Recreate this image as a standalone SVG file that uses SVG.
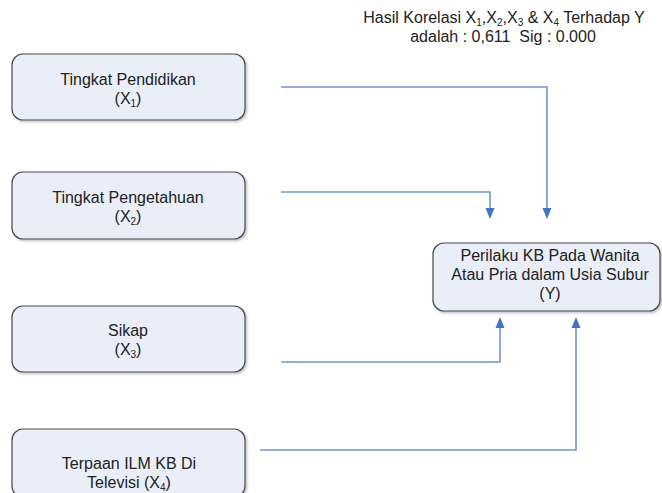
<svg xmlns="http://www.w3.org/2000/svg" width="662" height="493" viewBox="0 0 662 493">
<defs>
<filter id="sh" x="-5%" y="-5%" width="115%" height="120%">
<feDropShadow dx="1.5" dy="1.5" stdDeviation="1" flood-color="#000" flood-opacity="0.25"/>
</filter>
</defs>
<style>
.box{fill:#e9eef8;stroke:#4a4a4a;stroke-width:1.2;filter:url(#sh)}
.t{font-family:"Liberation Sans",Arial,sans-serif;font-size:16px;fill:#222;text-anchor:middle}
.s{font-size:10px}
.c{fill:none;stroke:#7096cc;stroke-width:1.6}
.ah{fill:#4472c4}
</style>
<rect width="662" height="493" fill="#fff"/>
<g id="title">
<text class="t" x="504" y="23">Hasil Korelasi X<tspan class="s" dy="3">1</tspan><tspan dy="-3">,X</tspan><tspan class="s" dy="3">2</tspan><tspan dy="-3">,X</tspan><tspan class="s" dy="3">3</tspan><tspan dy="-3"> &amp; X</tspan><tspan class="s" dy="3">4</tspan><tspan dy="-3"> Terhadap Y</tspan></text>
<text class="t" x="503" y="42" xml:space="preserve">adalah : 0,611  Sig : 0.000</text>
</g>
<g id="connectors">
<polyline class="c" points="281,87 547,87 547,210"/>
<path class="ah" d="M542.5,208 L551.5,208 L547,219 Z"/>
<polyline class="c" points="281,192 490,192 490,210"/>
<path class="ah" d="M485.5,208 L494.5,208 L490,219 Z"/>
<polyline class="c" points="281,362 500,362 500,326"/>
<path class="ah" d="M495.5,328 L504.5,328 L500,317 Z"/>
<polyline class="c" points="260,450 576,450 576,326"/>
<path class="ah" d="M571.5,328 L580.5,328 L576,317 Z"/>
</g>
<g id="x1">
<rect class="box" x="12" y="54" width="233" height="66" rx="11"/>
<text class="t" x="128" y="85">Tingkat Pendidikan</text>
<text class="t" x="128" y="104">(X<tspan class="s" dy="3">1</tspan><tspan dy="-3">)</tspan></text>
</g>
<g id="x2">
<rect class="box" x="12" y="172" width="233" height="67" rx="11"/>
<text class="t" x="128" y="203">Tingkat Pengetahuan</text>
<text class="t" x="128" y="222">(X<tspan class="s" dy="3">2</tspan><tspan dy="-3">)</tspan></text>
</g>
<g id="x3">
<rect class="box" x="12" y="306" width="233" height="66" rx="11"/>
<text class="t" x="128" y="336">Sikap</text>
<text class="t" x="128" y="355">(X<tspan class="s" dy="3">3</tspan><tspan dy="-3">)</tspan></text>
</g>
<g id="x4">
<rect class="box" x="12" y="429" width="233" height="68" rx="11"/>
<text class="t" x="129" y="469">Terpaan ILM KB Di</text>
<text class="t" x="129" y="488">Televisi (X<tspan class="s" dy="3">4</tspan><tspan dy="-3">)</tspan></text>
</g>
<g id="y">
<rect class="box" x="433" y="243" width="227" height="68" rx="11"/>
<text class="t" x="550" y="261">Perilaku KB Pada Wanita</text>
<text class="t" x="550" y="280">Atau Pria dalam Usia Subur</text>
<text class="t" x="550" y="299">(Y)</text>
</g>
</svg>
